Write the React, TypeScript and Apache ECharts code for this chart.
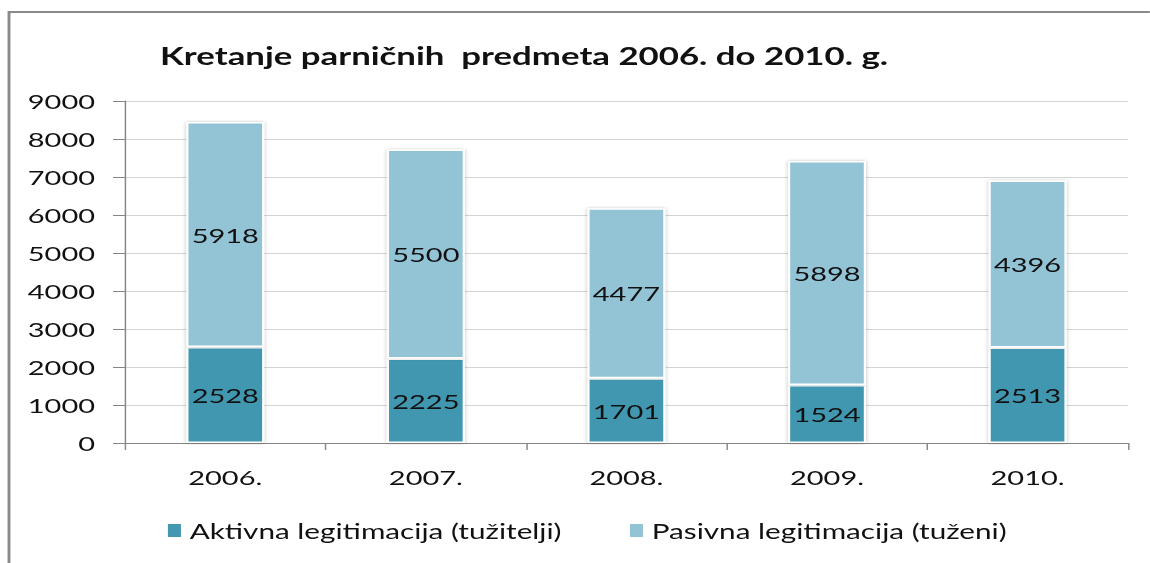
import React, { useEffect, useRef } from "react";
import * as echarts from "echarts";

const categories = ["2006.", "2007.", "2008.", "2009.", "2010."];
const aktivna = [2528, 2225, 1701, 1524, 2513];
const pasivna = [5918, 5500, 4477, 5898, 4396];
const seriesNames = ["Aktivna legitimacija (tužitelji)", "Pasivna legitimacija (tuženi)"];
const titleText = "Kretanje parničnih  predmeta 2006. do 2010. g.";

const FONT = "Lato, 'Open Sans', sans-serif";
// The reference picture is stretched horizontally; render narrower and stretch.
const SX = 1.45;
const W = 1150;
const H = 563;
const IW = W / SX;

export default function App() {
  const ref = useRef<HTMLDivElement>(null);
  useEffect(() => {
    if (!ref.current) return;
    const chart = echarts.init(ref.current, undefined, { renderer: "svg" });
    const label = {
      show: true,
      position: "inside" as const,
      color: "#111",
      fontSize: 20,
      fontFamily: FONT,
    };
    chart.setOption({
      animation: false,
      backgroundColor: "#fff",
      title: {
        text: titleText,
        left: 524 / SX,
        textAlign: "center",
        top: 43,
        padding: 0,
        textStyle: { fontSize: 24, fontWeight: "bold", color: "#111", fontFamily: FONT },
      },
      graphic: [
        {
          type: "rect",
          shape: { x: 9 / SX, y: 12, width: IW, height: 600 },
          style: { fill: "none", stroke: "#8a8a8a", lineWidth: 2 },
          silent: true,
        },
      ],
      legend: {
        bottom: 22,
        left: 165 / SX,
        padding: 0,
        itemWidth: 11,
        itemHeight: 15,
        itemGap: 45,
        icon: "rect",
        textStyle: { fontSize: 20.5, color: "#111", fontFamily: FONT },
        data: seriesNames,
      },
      grid: { left: 125 / SX, right: 22 / SX, top: 101, bottom: 120 },
      xAxis: {
        type: "category",
        data: categories,
        axisLine: { lineStyle: { color: "#868686", width: 1 } },
        axisTick: { show: true, length: 7, lineStyle: { color: "#868686" } },
        axisLabel: { fontSize: 20, color: "#111", margin: 24, fontFamily: FONT },
      },
      yAxis: {
        type: "value",
        min: 0,
        max: 9000,
        interval: 1000,
        axisLine: { show: true, lineStyle: { color: "#868686", width: 1 } },
        axisTick: { show: true, length: 12 / SX, lineStyle: { color: "#868686" } },
        axisLabel: {
          fontSize: 20,
          color: "#111",
          margin: 30 / SX,
          fontFamily: FONT,
          formatter: (v: number) => String(v),
        },
        splitLine: { lineStyle: { color: "#d4d4d4", width: 1 } },
      },
      series: [
        {
          name: seriesNames[0],
          type: "bar",
          stack: "total",
          data: aktivna,
          barWidth: 78 / SX,
          itemStyle: {
            color: "#4397b0",
            borderColor: "#fff",
            borderWidth: 1.5,
            shadowColor: "rgba(0,0,0,0.25)",
            shadowBlur: 3,
          },
          label,
        },
        {
          name: seriesNames[1],
          type: "bar",
          stack: "total",
          data: pasivna,
          barWidth: 78 / SX,
          itemStyle: {
            color: "#93c4d6",
            borderColor: "#fff",
            borderWidth: 1.5,
            shadowColor: "rgba(0,0,0,0.25)",
            shadowBlur: 3,
          },
          label,
        },
      ],
    });
    return () => chart.dispose();
  }, []);
  return (
    <div style={{ position: "fixed", left: 0, top: 0, width: W, height: H, overflow: "hidden", background: "#fff" }}>
      <div
        ref={ref}
        style={{ width: IW, height: H, transform: `scaleX(${SX})`, transformOrigin: "0 0" }}
      />
    </div>
  );
}
